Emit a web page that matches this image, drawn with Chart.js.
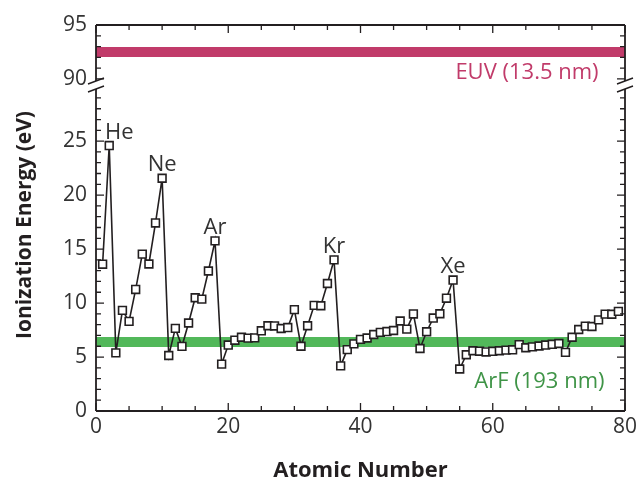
<!DOCTYPE html>
<html>
<head>
<meta charset="utf-8">
<title>Ionization Energy</title>
<script src="https://cdn.jsdelivr.net/npm/chart.js@4.4.0/dist/chart.umd.min.js"></script>
<style>
  html, body { margin: 0; padding: 0; background: #fff; }
  canvas { display: block; }
</style>
</head>
<body>
<canvas id="chart" width="636" height="486"></canvas>
<script>
// first ionization energies, Z = 1 .. 79 (eV)
var atomicNumbers = [
  1, 2, 3, 4, 5, 6, 7, 8, 9, 10, 11, 12, 13, 14, 15, 16, 17, 18, 19, 20,
  21, 22, 23, 24, 25, 26, 27, 28, 29, 30, 31, 32, 33, 34, 35, 36, 37, 38, 39, 40,
  41, 42, 43, 44, 45, 46, 47, 48, 49, 50, 51, 52, 53, 54, 55, 56, 57, 58, 59, 60,
  61, 62, 63, 64, 65, 66, 67, 68, 69, 70, 71, 72, 73, 74, 75, 76, 77, 78, 79
];
var ionizationEnergy = [
  13.60, 24.59, 5.39, 9.32, 8.30, 11.26, 14.53, 13.62, 17.42, 21.56,
  5.14, 7.65, 5.99, 8.15, 10.49, 10.36, 12.97, 15.76, 4.34, 6.11,
  6.56, 6.83, 6.75, 6.77, 7.43, 7.90, 7.88, 7.64, 7.73, 9.39,
  6.00, 7.90, 9.79, 9.75, 11.81, 14.00, 4.18, 5.69, 6.22, 6.63,
  6.76, 7.09, 7.28, 7.36, 7.46, 8.34, 7.58, 8.99, 5.79, 7.34,
  8.61, 9.01, 10.45, 12.13, 3.89, 5.21, 5.58, 5.54, 5.47, 5.53,
  5.58, 5.64, 5.67, 6.15, 5.86, 5.94, 6.02, 6.11, 6.18, 6.25,
  5.43, 6.83, 7.55, 7.86, 7.83, 8.44, 8.97, 8.96, 9.23
];
var nobleNames = ['He', 'Ne', 'Ar', 'Kr', 'Xe'];
var nobleZ = [2, 10, 18, 36, 54];

var bandRange = [0, 80];
var euvEnergy = 92.5;   // 13.5 nm photon
var arfEnergy = 6.4;    // 193 nm photon

var xTicks = [0, 20, 40, 60, 80];
var lowTicks = [0, 5, 10, 15, 20, 25];
var highTicks = [90, 95];

var FONT = "'Open Sans', 'DejaVu Sans', sans-serif";
var INK = '#231f20';

var points = atomicNumbers.map(function (z, i) { return { x: z, y: ionizationEnergy[i] }; });

var decorations = {
  id: 'decorations',
  afterDatasetsDraw: function (chart) {
    var ctx = chart.ctx, area = chart.chartArea;
    var xs = chart.scales.x, ylo = chart.scales.y, yhi = chart.scales.yTop;
    var split = (yhi.bottom + ylo.top) / 2;
    var gap = 4;

    ctx.save();
    ctx.strokeStyle = INK;
    ctx.lineWidth = 1.8;

    // frame, with a gap at the break on both sides
    ctx.beginPath();
    ctx.moveTo(area.left, area.top); ctx.lineTo(area.right, area.top);
    ctx.moveTo(area.left, area.bottom); ctx.lineTo(area.right, area.bottom);
    [area.left, area.right].forEach(function (x) {
      ctx.moveTo(x, area.top); ctx.lineTo(x, split - gap);
      ctx.moveTo(x, split + gap); ctx.lineTo(x, area.bottom);
    });
    ctx.stroke();

    // inward ticks
    ctx.lineWidth = 1.3;
    ctx.beginPath();
    var v, len, px;
    for (v = 0; v <= 80; v += 5) {
      len = v % 20 === 0 ? 8 : 5;
      px = xs.getPixelForValue(v);
      ctx.moveTo(px, area.bottom); ctx.lineTo(px, area.bottom - len);
      ctx.moveTo(px, area.top); ctx.lineTo(px, area.top + len);
    }
    for (v = 0; v <= 29; v++) {
      len = v % 5 === 0 ? 8 : 5;
      px = ylo.getPixelForValue(v);
      ctx.moveTo(area.left, px); ctx.lineTo(area.left + len, px);
      ctx.moveTo(area.right, px); ctx.lineTo(area.right - len, px);
    }
    for (v = 90; v <= 95; v++) {
      len = v % 5 === 0 ? 8 : 5;
      px = yhi.getPixelForValue(v);
      ctx.moveTo(area.left, px); ctx.lineTo(area.left + len, px);
      ctx.moveTo(area.right, px); ctx.lineTo(area.right - len, px);
    }
    ctx.stroke();

    // break marks
    ctx.lineWidth = 1.4;
    ctx.beginPath();
    [area.left, area.right].forEach(function (x) {
      [-gap, gap].forEach(function (d) {
        ctx.moveTo(x - 8, split + d + 3);
        ctx.lineTo(x + 8, split + d - 3);
      });
    });
    ctx.stroke();

    // element labels above the noble gas peaks
    var meta = chart.getDatasetMeta(0);
    ctx.fillStyle = '#333';
    ctx.font = '22px ' + FONT;
    ctx.textAlign = 'center';
    ctx.textBaseline = 'alphabetic';
    nobleNames.forEach(function (name, i) {
      var pt = meta.data[atomicNumbers.indexOf(nobleZ[i])];
      var dx = i === 0 ? 10 : 0;
      ctx.fillText(name, pt.x + dx, pt.y - 7);
    });

    // band captions
    ctx.textAlign = 'right';
    ctx.textBaseline = 'middle';
    ctx.fillStyle = '#c13b6a';
    ctx.fillText('EUV (13.5 nm)', xs.getPixelForValue(76), yhi.getPixelForValue(euvEnergy) + 21);
    ctx.fillStyle = '#3f9447';
    ctx.font = '500 22px ' + FONT;
    ctx.fillText('ArF (193 nm)', xs.getPixelForValue(76.9), ylo.getPixelForValue(arfEnergy) + 40);

    // y axis title across both panels
    ctx.fillStyle = INK;
    ctx.font = 'bold 21px ' + FONT;
    ctx.textAlign = 'center';
    ctx.translate(25, (area.top + area.bottom) / 2 + 7);
    ctx.rotate(-Math.PI / 2);
    ctx.fillText('Ionization Energy (eV)', 0, 0);
    ctx.restore();
  }
};

function tickFont() { return { family: FONT, size: 21 }; }

new Chart(document.getElementById('chart'), {
  type: 'line',
  data: {
    datasets: [
      {
        data: points,
        yAxisID: 'y',
        order: 0,
        borderColor: INK,
        borderWidth: 1.6,
        pointStyle: 'rect',
        pointRadius: 5.5,
        pointBackgroundColor: '#fff',
        pointBorderColor: INK,
        pointBorderWidth: 1.6
      },
      {
        data: bandRange.map(function (x) { return { x: x, y: arfEnergy }; }),
        yAxisID: 'y',
        order: 1,
        borderColor: '#52b85a',
        borderWidth: 10,
        borderCapStyle: 'butt',
        pointRadius: 0
      },
      {
        data: bandRange.map(function (x) { return { x: x, y: euvEnergy }; }),
        yAxisID: 'yTop',
        order: 1,
        borderColor: '#c13b6a',
        borderWidth: 10,
        borderCapStyle: 'butt',
        pointRadius: 0
      }
    ]
  },
  options: {
    responsive: false,
    animation: false,
    layout: { padding: { left: 36, right: 11, top: 25, bottom: 0 } },
    plugins: { legend: { display: false }, tooltip: { enabled: false } },
    scales: {
      x: {
        type: 'linear',
        min: 0,
        max: 80,
        afterBuildTicks: function (s) { s.ticks = xTicks.map(function (v) { return { value: v }; }); },
        ticks: { font: tickFont(), color: '#333', padding: 3, maxRotation: 0 },
        grid: { display: false, drawTicks: false },
        border: { display: false },
        title: {
          display: true,
          text: 'Atomic Number',
          color: INK,
          font: { family: FONT, size: 22, weight: 'bold' },
          padding: { top: 0, bottom: 2 }
        },
        afterFit: function (s) { s.height = 75; s.paddingLeft = 0; s.paddingRight = 0; }
      },
      y: {
        type: 'linear',
        position: 'left',
        stack: 'energy',
        stackWeight: 326,
        min: 0,
        max: 30.2,
        afterBuildTicks: function (s) { s.ticks = lowTicks.map(function (v) { return { value: v }; }); },
        ticks: { font: tickFont(), color: '#333', padding: 9 },
        grid: { display: false, drawTicks: false },
        border: { display: false },
        afterFit: function (s) { s.width = 60; s.paddingTop = 0; s.paddingBottom = 0; }
      },
      yTop: {
        type: 'linear',
        position: 'left',
        stack: 'energy',
        stackWeight: 60,
        min: 89.44,
        max: 95,
        afterBuildTicks: function (s) { s.ticks = highTicks.map(function (v) { return { value: v }; }); },
        ticks: { font: tickFont(), color: '#333', padding: 9 },
        grid: { display: false, drawTicks: false },
        border: { display: false },
        afterFit: function (s) { s.width = 60; s.paddingTop = 0; s.paddingBottom = 0; }
      }
    }
  },
  plugins: [decorations]
});
</script>
</body>
</html>
